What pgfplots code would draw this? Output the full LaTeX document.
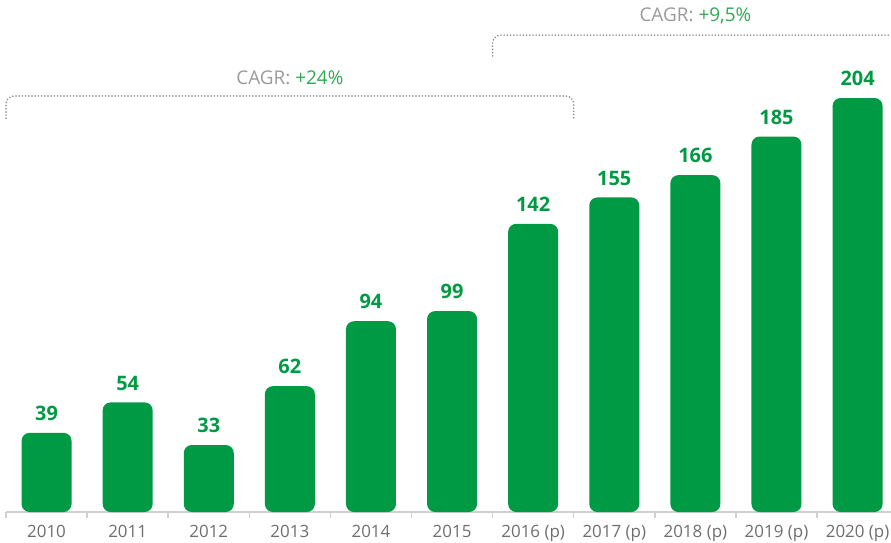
\documentclass[border=0pt]{standalone}
\usepackage{pgfplots}
\pgfplotsset{compat=1.18}
\usepackage{fontspec}
\setmainfont{Open Sans}
\definecolor{bargreen}{HTML}{009A44}
\definecolor{cagrgreen}{HTML}{2DAA4F}
\definecolor{ticktext}{HTML}{6E6E6E}
\definecolor{axisgray}{HTML}{D0D0D0}
\definecolor{dotgray}{HTML}{808080}
\definecolor{cagrgray}{HTML}{9A9A9A}
\begin{document}
\begin{tikzpicture}
\begin{axis}[
  scale only axis, width=885bp, height=512bp,
  xmin=-0.5, xmax=10.412, ymin=0, ymax=252.3,
  /pgf/number format/assume math mode=true,
  axis y line=none,
  axis x line*=bottom,
  x axis line style={axisgray, line width=1.5bp},
  xtick={0,...,10},
  xticklabels={2010,2011,2012,2013,2014,2015,2016 (p),2017 (p),2018 (p),2019 (p),2020 (p)},
  major tick length=0pt,
  minor xtick={-0.5,0.5,1.5,2.5,3.5,4.5,5.5,6.5,7.5,8.5,9.5},
  minor tick length=6bp,
  tick align=outside,
  minor tick style={axisgray, line width=1.5bp},
  xticklabel style={font=\fontsize{17}{17}\selectfont, text=ticktext, yshift=-10bp},
  ytick=\empty,
  clip=false,
]
\addplot[ybar, bar width=50bp, fill=bargreen, draw=none, rounded corners=8bp,
  nodes near coords,
  nodes near coords style={font=\fontsize{20}{20}\selectfont\bfseries, text=bargreen, anchor=south, inner sep=0pt, yshift=12bp}]
  coordinates {(0,39) (1,54) (2,33) (3,62) (4,94) (5,99) (6,142) (7,155) (8,166) (9,185) (10,204)};
\draw[dotgray, line width=1.7bp, line cap=round, dash pattern=on 0pt off 3.2bp, rounded corners=8bp]
  (axis cs:-0.5,194) -- (axis cs:-0.5,205) -- (axis cs:6.5,205) -- (axis cs:6.5,194);
\draw[dotgray, line width=1.7bp, line cap=round, dash pattern=on 0pt off 3.2bp, rounded corners=8bp]
  (axis cs:5.5,224.8) -- (axis cs:5.5,235) -- (axis cs:10.412,235);
\node[font=\fontsize{19}{19}\selectfont, anchor=center] at (axis cs:3.0,213.9) {\textcolor{cagrgray}{CAGR:} \textcolor{cagrgreen}{+24\%}};
\node[font=\fontsize{19}{19}\selectfont, anchor=center] at (axis cs:8.0,244.6) {\textcolor{cagrgray}{CAGR:} \textcolor{cagrgreen}{+9,5\%}};
\coordinate (SW) at (rel axis cs:0,0);
\coordinate (NE) at (rel axis cs:1,1);
\end{axis}
\pgfresetboundingbox
\path ([shift={(-6bp,-31bp)}]SW) rectangle (NE);
\end{tikzpicture}
\end{document}
